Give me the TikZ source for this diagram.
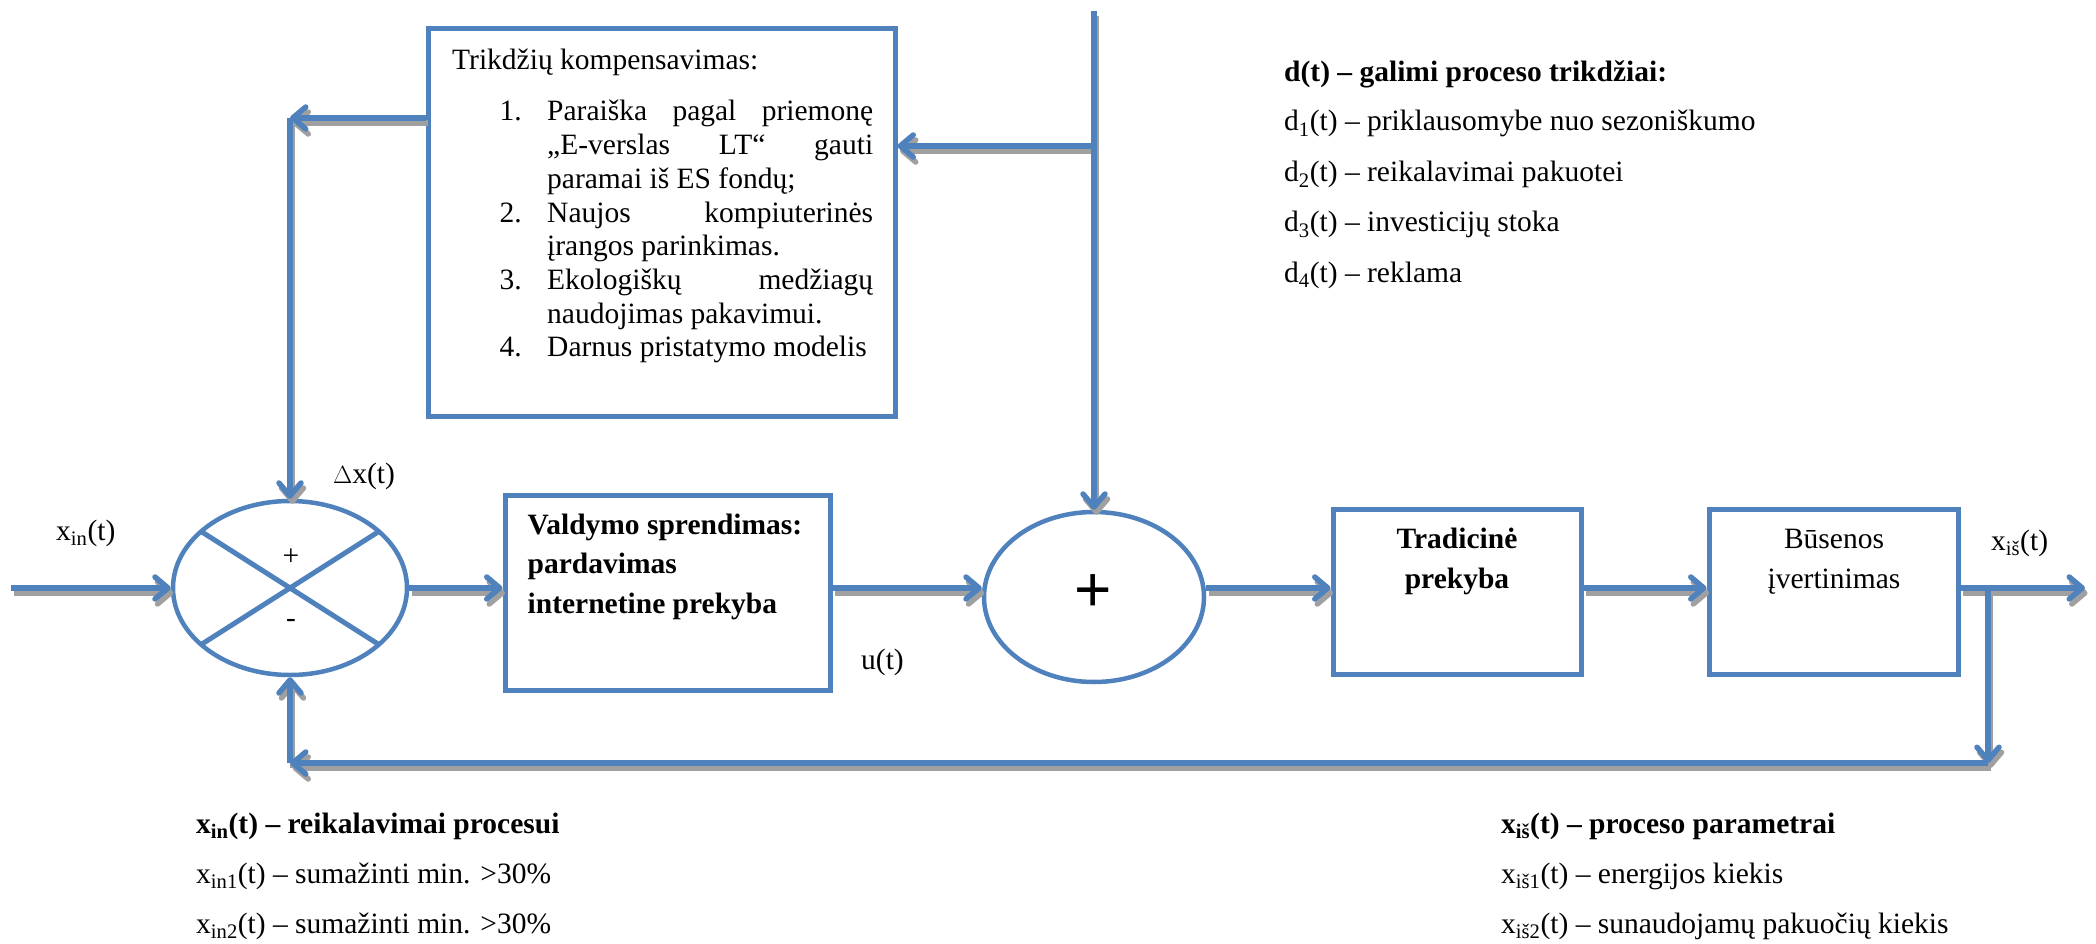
\documentclass[tikz,border=0pt]{standalone}
\usepackage{fontspec}
\setmainfont{Liberation Serif}
\newfontfamily\plusfont{Liberation Sans}
\usetikzlibrary{arrows.meta,shapes.geometric,calc}
\definecolor{lineblue}{RGB}{79,129,189}
\definecolor{shadowgray}{RGB}{160,160,160}

% all signal connectors, drawn once as shadow and once in blue
\newcommand\drawconnectors[1]{%
  \draw[#1] (in) -- (sum.west);
  \draw[#1] (sum.east) -- (sum.east -| ctrl.west);
  \draw[#1] (sum.east -| ctrl.east) -- (sum.east -| plus.west);
  \draw[#1] (sum.east -| plus.east) -- (sum.east -| trad.west);
  \draw[#1] (sum.east -| trad.east) -- (sum.east -| bus.west);
  \draw[#1] (sum.east -| bus.east) -- (out);
  \draw[#1] (tap) -- (tapd);
  \draw[#1] (tapd) -- (ret);
  \draw[#1] (ret) -- (sum.south);
  \draw[#1] (dsrc) -- (plus.north);
  \draw[#1] (dtap) -- (dtap -| komp.east);
  \draw[#1] (fb -| komp.west) -- (fb);
  \draw[#1] (fb) -- (sum.north);
}

\begin{document}
\begin{tikzpicture}[x=1pt,y=-1pt,
  txt/.style={font=\fontsize{29.5}{34}\selectfont, inner sep=0pt, anchor=base west},
  txtb/.style={txt, font=\fontsize{29.5}{34}\selectfont\bfseries},
  block/.style={draw=lineblue, line width=5pt, rectangle, inner sep=0pt},
  junction/.style={draw=lineblue, line width=4.5pt, ellipse, inner sep=0pt},
  flow/.style={line width=5.5pt, -{Straight Barb[length=13pt,width=22pt,round]}},
  flowshadow/.style={flow, draw=shadowgray},
  flowline/.style={flow, draw=lineblue},
]
\useasboundingbox (0,0) rectangle (2096,944);

% ---- disturbance compensation block ----
\node[block, minimum width=467, minimum height=387] (komp) at (661.5,222.5) {};
\node[txt] (kt) at (452,70) {Trikdžių kompensavimas:};
\node[txt] (n1) at (499.5,121) {1.};
\node[txt] (l1a) at (547,121) {\hbox to 326pt{Paraiška\hfill pagal\hfill priemonę}};
\node[txt] (l1b) at (547,154.7) {\hbox to 326pt{„E-verslas\hfill LT“\hfill gauti}};
\node[txt] (l1c) at (547,188.4) {paramai iš ES fondų;};
\node[txt] (n2) at (499.5,222.1) {2.};
\node[txt] (l2a) at (547,222.1) {\hbox to 326pt{Naujos\hfill kompiuterinės}};
\node[txt] (l2b) at (547,255.8) {įrangos parinkimas.};
\node[txt] (n3) at (499.5,289.5) {3.};
\node[txt] (l3a) at (547,289.5) {\hbox to 326pt{Ekologiškų\hfill medžiagų}};
\node[txt] (l3b) at (547,323.2) {naudojimas pakavimui.};
\node[txt] (n4) at (499.5,356.9) {4.};
\node[txt] (l4a) at (547,356.9) {Darnus pristatymo modelis};

% ---- disturbance legend ----
\node[txtb] (dh) at (1284,82) {d(t) – galimi proceso trikdžiai:};
\node[txt] (d1) at (1284,131) {d\textsubscript{1}(t) – priklausomybe nuo sezoniškumo};
\node[txt] (d2) at (1284,182) {d\textsubscript{2}(t) – reikalavimai pakuotei};
\node[txt] (d3) at (1284,232) {d\textsubscript{3}(t) – investicijų stoka};
\node[txt] (d4) at (1284,282) {d\textsubscript{4}(t) – reklama};

% ---- main loop blocks ----
\node[junction, minimum width=234, minimum height=174] (sum) at (290,588) {};
\draw[lineblue, line width=5pt] ($(sum.center)+(-88,-56)$) -- ($(sum.center)+(88,56)$);
\draw[lineblue, line width=5pt] ($(sum.center)+(88,-56)$) -- ($(sum.center)+(-88,56)$);
\node[font=\fontsize{29.5}{34}\selectfont, inner sep=0pt] (splus) at (291,557) {+};
\node[font=\fontsize{29.5}{34}\selectfont, inner sep=0pt] (sminus) at (291,623) {-};

\node[block, minimum width=325, minimum height=195] (ctrl) at (667.5,592.5) {};
\node[txtb] (c1) at (527.5,534) {Valdymo sprendimas:};
\node[txtb] (c2) at (527.5,573) {pardavimas};
\node[txtb] (c3) at (527.5,613) {internetine prekyba};

\node[junction, minimum width=220, minimum height=170] (plus) at (1094,597) {};
\node[font=\plusfont\fontsize{64}{64}\selectfont, inner sep=0pt] (bigplus) at (1093,593) {+};

\node[block, minimum width=248, minimum height=165] (trad) at (1457,591.5) {};
\node[txtb, anchor=base] (t1) at (1457,548) {Tradicinė};
\node[txtb, anchor=base] (t2) at (1457,588) {prekyba};

\node[block, minimum width=249, minimum height=165] (bus) at (1833.5,591.5) {};
\node[txt, anchor=base] (b1) at (1834,548) {Būsenos};
\node[txt, anchor=base] (b2) at (1834,588) {įvertinimas};

% ---- signal labels ----
\node[txt] (lin) at (56,540) {x\textsubscript{in}(t)};
\node[txt] (ldx) at (333,483) {$\Delta$x(t)};
\node[txt] (lu) at (861,669) {u(t)};
\node[txt] (lout) at (1991,550) {x\textsubscript{iš}(t)};

% ---- connectors ----
\coordinate (in) at (11,588);
\coordinate (out) at (2085,588);
\coordinate (tap) at (1988,588);
\coordinate (tapd) at (1988,763);
\coordinate (ret) at (290,763);
\coordinate (dsrc) at (1094,11);
\coordinate (dtap) at (1094,146);
\coordinate (fb) at (290,118);

\begin{scope}[transform canvas={shift={(2.5pt,-5pt)}}]
  \drawconnectors{flowshadow}
\end{scope}
\drawconnectors{flowline}

% ---- parameter legends ----
\node[txtb] (xh) at (196,833) {x\textsubscript{in}(t) – reikalavimai procesui};
\node[txt] (x1) at (196,883) {x\textsubscript{in1}(t) – sumažinti min. >30\%};
\node[txt] (x2) at (196,933) {x\textsubscript{in2}(t) – sumažinti min. >30\%};

\node[txtb] (yh) at (1501,833) {x\textsubscript{iš}(t) – proceso parametrai};
\node[txt] (y1) at (1501,883) {x\textsubscript{iš1}(t) – energijos kiekis};
\node[txt] (y2) at (1501,933) {x\textsubscript{iš2}(t) – sunaudojamų pakuočių kiekis};
\end{tikzpicture}
\end{document}
